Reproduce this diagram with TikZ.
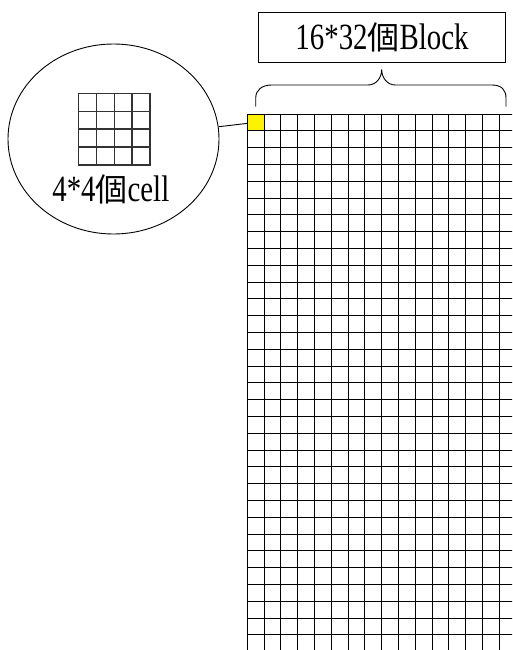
\documentclass[tikz,border=0pt]{standalone}
\usepackage{fontspec}
\usetikzlibrary{shapes.geometric}
\setmainfont{Liberation Serif}[FakeStretch=0.78]
\newfontfamily\cjkfont{Noto Sans CJK TC}
\newcommand{\ko}{{\fontsize{32}{36}\cjkfont 個}}
\tikzset{
  gridline/.style={line width=0.9pt, black},
  smallcell/.style={draw=black!80, line width=1.2pt, minimum size=17.9pt, inner sep=0pt, outer sep=0pt},
  bigtext/.style={font=\fontsize{37}{40}\selectfont, text height=25pt, text depth=0pt, inner sep=0pt},
}
\begin{document}
\begin{tikzpicture}[x=1pt, y=-1pt]
\useasboundingbox (0,0) rectangle (512,650);
\clip (0,0) rectangle (512,650);
% title box
\node[draw, line width=0.9pt, bigtext, minimum width=247.4pt, minimum height=50.4pt] (title) at (382,37.5) {16*32\ko Block};
% brace
\draw[line width=0.9pt] (255.7,106.7) -- (255.7,98) .. controls (255.7,90) and (262,85) .. (271.7,85) -- (368,85) .. controls (376,85) and (381.7,78) .. (381.7,69.5) .. controls (381.7,78) and (387.4,85) .. (395.4,85) -- (492,85) .. controls (501.5,85) and (506,90) .. (506,98) -- (506,106.7);
% yellow block
\node[fill=yellow, minimum size=16.8pt, inner sep=0pt, outer sep=0pt, anchor=north west] (yellow) at (247.3,114) {};
% main grid
\foreach \k in {0,...,16} {
  \draw[gridline] (247.3+\k*16.8,114) -- (247.3+\k*16.8,651.6);
}
\foreach \j in {0,...,32} {
  \draw[gridline] (247.3,114+\j*16.8) -- (516.1,114+\j*16.8);
}
% zoom ellipse
\node[draw, ellipse, line width=0.9pt, minimum width=211pt, minimum height=190pt, inner sep=0pt] (circ) at (113.5,139) {};
\draw[line width=0.9pt] (circ) -- (yellow);
% small 4x4 cells
\foreach \i in {0,...,3} {
  \foreach \j in {0,...,3} {
    \node[smallcell, anchor=north west] (c\i\j) at (78.3+\i*17.9,93.3+\j*17.9) {};
  }
}
\node[bigtext, anchor=base] (celltext) at (110.8,201.7) {4*4\ko cell};
\end{tikzpicture}
\end{document}
